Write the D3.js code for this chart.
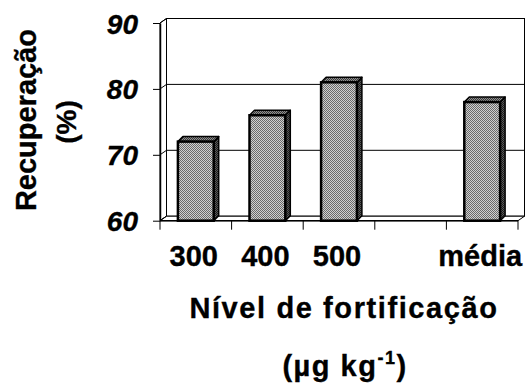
<!DOCTYPE html>
<html>
<head>
<meta charset="utf-8">
<script src="https://cdn.jsdelivr.net/npm/d3@7"></script>
<style>
  html, body { margin: 0; padding: 0; background: #fff; }
  svg { display: block; }
  text { font-family: "Liberation Sans", Arial, sans-serif; font-weight: bold; fill: #000;
         stroke: #000; stroke-width: 0.35px; }
</style>
</head>
<body>
<svg id="chart" width="531" height="387"></svg>
<script>
// Recovery (%) per fortification level, plus the overall mean
const categories = ["300", "400", "500", "", "média"];
const recovery = [72, 76, 81, null, 78];
const yTicks = [60, 70, 80, 90];
const yTitle = ["Recuperação", "(%)"];
const xTitle = "Nível de fortificação";

const svg = d3.select("#chart");

// Front plane of the 3-D box and the depth offset of the back wall
const plotLeft = 160, plotRight = 518, plotBottom = 220.7, plotTop = 23;
const wallDx = 6.5, wallDy = -4.5;
const barDx = 5, barDy = -5;

const y = d3.scaleLinear().domain([60, 90]).range([plotBottom, plotTop]);
const x = d3.scaleBand().domain(categories).range([plotLeft, plotRight]).padding(0);
const barW = x.bandwidth() * 0.5;

// Stippled fills for the column faces
const defs = svg.append("defs");
function stipple(id, light, dark) {
  const p = defs.append("pattern").attr("id", id)
    .attr("patternUnits", "userSpaceOnUse").attr("width", 2).attr("height", 2);
  p.append("rect").attr("width", 2).attr("height", 2).attr("fill", light);
  p.append("rect").attr("x", 0).attr("y", 0).attr("width", 1).attr("height", 1).attr("fill", dark);
  p.append("rect").attr("x", 1).attr("y", 1).attr("width", 1).attr("height", 1).attr("fill", dark);
}
stipple("faceFront", "#d0d0d0", "#6a6a6a");
stipple("faceTop", "#909090", "#383838");
stipple("faceSide", "#5a5a5a", "#1a1a1a");

const g = svg.append("g");

// Back wall
g.append("rect")
  .attr("x", plotLeft + wallDx).attr("y", y(90) + wallDy)
  .attr("width", plotRight - plotLeft).attr("height", y(60) - y(90))
  .attr("fill", "#fff").attr("stroke", "#000").attr("stroke-width", 1);

// Left side wall
g.append("path")
  .attr("d", `M${plotLeft},${y(60)}L${plotLeft},${y(90)}L${plotLeft + wallDx},${y(90) + wallDy}L${plotLeft + wallDx},${y(60) + wallDy}Z`)
  .attr("fill", "#fff").attr("stroke", "#000").attr("stroke-width", 1);

// Floor
g.append("path")
  .attr("d", `M${plotLeft},${y(60)}L${plotRight},${y(60)}L${plotRight + wallDx},${y(60) + wallDy}L${plotLeft + wallDx},${y(60) + wallDy}Z`)
  .attr("fill", "#fff").attr("stroke", "#000").attr("stroke-width", 1);

// Gridlines on the back wall and their continuation across the side wall
g.selectAll(".grid").data(yTicks.filter(d => d > 60 && d < 90)).join("line")
  .attr("class", "grid")
  .attr("x1", plotLeft + wallDx).attr("x2", plotRight + wallDx)
  .attr("y1", d => y(d) + wallDy).attr("y2", d => y(d) + wallDy)
  .attr("stroke", "#000").attr("stroke-width", 1);
g.selectAll(".sidegrid").data(yTicks).join("line")
  .attr("class", "sidegrid")
  .attr("x1", plotLeft).attr("x2", plotLeft + wallDx)
  .attr("y1", d => y(d)).attr("y2", d => y(d) + wallDy)
  .attr("stroke", "#000").attr("stroke-width", 1);

// Y axis
const yAxis = d3.axisLeft(y).tickValues(yTicks).tickSize(7).tickSizeOuter(0).tickPadding(15);
const ya = g.append("g").attr("transform", `translate(${plotLeft},0)`).call(yAxis);
ya.select(".domain").attr("stroke", "#000").attr("stroke-width", 1.5);
ya.selectAll(".tick line").attr("stroke", "#000").attr("stroke-width", 1);
ya.selectAll(".tick text")
  .attr("font-family", '"Liberation Sans", Arial, sans-serif')
  .attr("font-size", 28).attr("font-style", "italic").attr("font-weight", "bold")
  .attr("fill", "#000").attr("dy", "0.36em");

// X axis ticks at the category boundaries
const bounds = categories.map(c => x(c)).concat([x(categories[categories.length - 1]) + x.bandwidth()]);
g.selectAll(".xtick").data(bounds).join("line")
  .attr("class", "xtick")
  .attr("x1", d => d).attr("x2", d => d)
  .attr("y1", plotBottom).attr("y2", plotBottom + 9)
  .attr("stroke", "#000").attr("stroke-width", 1);
g.append("line")
  .attr("x1", plotLeft).attr("x2", plotRight).attr("y1", plotBottom).attr("y2", plotBottom)
  .attr("stroke", "#000").attr("stroke-width", 1.5);

// Columns: front, top and side faces
const bars = categories.map((c, i) => ({ c, v: recovery[i] })).filter(d => d.v != null);
const col = g.selectAll(".col").data(bars).join("g").attr("class", "col");
col.append("path")
  .attr("d", d => {
    const x0 = x(d.c) + (x.bandwidth() - barW) / 2, x1 = x0 + barW, yt = y(d.v);
    return `M${x1},${yt}L${x1 + barDx},${yt + barDy}L${x1 + barDx},${plotBottom + barDy}L${x1},${plotBottom}Z`;
  })
  .attr("fill", "url(#faceSide)").attr("stroke", "#000").attr("stroke-width", 1.5).attr("stroke-linejoin", "round");
col.append("path")
  .attr("d", d => {
    const x0 = x(d.c) + (x.bandwidth() - barW) / 2, x1 = x0 + barW, yt = y(d.v);
    return `M${x0},${yt}L${x0 + barDx},${yt + barDy}L${x1 + barDx},${yt + barDy}L${x1},${yt}Z`;
  })
  .attr("fill", "url(#faceTop)").attr("stroke", "#000").attr("stroke-width", 1.5).attr("stroke-linejoin", "round");
col.append("rect")
  .attr("x", d => x(d.c) + (x.bandwidth() - barW) / 2)
  .attr("y", d => y(d.v))
  .attr("width", barW)
  .attr("height", d => plotBottom - y(d.v))
  .attr("fill", "url(#faceFront)").attr("stroke", "#000").attr("stroke-width", 2.5);

// Category labels
g.selectAll(".xlab").data(categories).join("text")
  .attr("class", "xlab")
  .attr("x", d => x(d) + x.bandwidth() / 2 - 2)
  .attr("y", 266)
  .attr("text-anchor", "middle")
  .attr("font-size", 29)
  .text(d => d);

// Axis titles
svg.append("text")
  .attr("x", 344).attr("y", 318)
  .attr("text-anchor", "middle").attr("font-size", 29)
  .attr("letter-spacing", 1.6)
  .text(xTitle);
const unit = svg.append("text")
  .attr("x", 345).attr("y", 376)
  .attr("text-anchor", "middle").attr("font-size", 29)
  .attr("letter-spacing", 1.5);
unit.append("tspan").text("(µg kg");
unit.append("tspan").attr("font-size", 18).attr("dy", -12).text("-1");
unit.append("tspan").attr("dy", 12).text(")");

svg.append("text")
  .attr("transform", "translate(36,120) rotate(-90)")
  .attr("text-anchor", "middle").attr("font-size", 29)
  .text(yTitle[0]);
svg.append("text")
  .attr("transform", "translate(76,122) rotate(-90)")
  .attr("text-anchor", "middle").attr("font-size", 28)
  .text(yTitle[1]);
</script>
</body>
</html>
